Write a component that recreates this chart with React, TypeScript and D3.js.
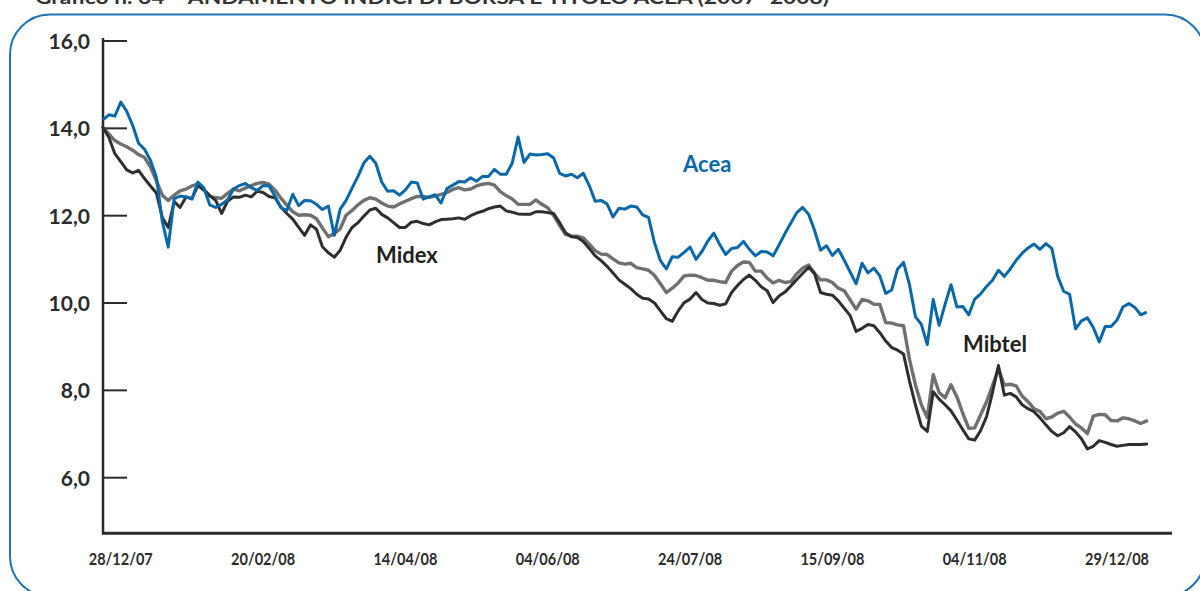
import React from "react";
import * as d3 from "d3";

const title = "Grafico n. 64 – ANDAMENTO INDICI DI BORSA E TITOLO ACEA (2007–2008)";

const tickLabels = ["28/12/07", "20/02/08", "14/04/08", "04/06/08", "24/07/08", "15/09/08", "04/11/08", "29/12/08"];
const tickIndex = [3, 27, 51, 75, 99, 123, 147, 171];
const yTicks = [6, 8, 10, 12, 14, 16];

const acea = [
  14.20, 14.31, 14.28, 14.60, 14.39, 14.07, 13.66, 13.52, 13.27, 12.88,
  11.87, 11.28, 12.39, 12.45, 12.43, 12.38, 12.77, 12.64, 12.25, 12.19,
  12.26, 12.36, 12.61, 12.69, 12.74, 12.64, 12.58, 12.69, 12.68, 12.45,
  12.18, 12.12, 12.49, 12.23, 12.35, 12.34, 12.26, 12.14, 12.22, 11.55,
  12.15, 12.35, 12.63, 12.90, 13.21, 13.36, 13.20, 12.77, 12.56, 12.57,
  12.47, 12.59, 12.77, 12.75, 12.38, 12.43, 12.48, 12.29, 12.62, 12.70,
  12.78, 12.77, 12.87, 12.79, 12.90, 12.90, 13.06, 12.95, 12.95, 13.20,
  13.80, 13.22, 13.41, 13.39, 13.40, 13.42, 13.32, 12.97, 12.91, 12.95,
  12.87, 12.97, 12.69, 12.33, 12.35, 12.27, 11.97, 12.17, 12.15, 12.22,
  12.20, 12.02, 11.96, 11.38, 10.97, 10.78, 11.06, 11.05, 11.16, 11.28,
  11.00, 11.18, 11.42, 11.60, 11.34, 11.11, 11.25, 11.27, 11.41, 11.23,
  11.08, 11.18, 11.17, 11.08, 11.33, 11.59, 11.83, 12.07, 12.19, 12.03,
  11.66, 11.21, 11.31, 11.09, 11.23, 10.98, 10.71, 10.44, 10.91, 10.69,
  10.80, 10.62, 10.22, 10.30, 10.78, 10.93, 10.42, 9.69, 9.51, 9.05,
  10.08, 9.49, 9.97, 10.42, 9.91, 9.92, 9.73, 10.09, 10.21, 10.38,
  10.52, 10.75, 10.61, 10.78, 10.98, 11.14, 11.26, 11.35, 11.23, 11.36,
  11.25, 10.61, 10.27, 10.20, 9.41, 9.59, 9.66, 9.44, 9.11, 9.46,
  9.46, 9.61, 9.91, 9.99, 9.90, 9.73, 9.79,
];

const mibtel = [
  14.02, 13.87, 13.72, 13.64, 13.58, 13.50, 13.40, 13.33, 13.12, 12.80,
  12.47, 12.35, 12.47, 12.57, 12.61, 12.68, 12.72, 12.59, 12.45, 12.41,
  12.40, 12.51, 12.61, 12.57, 12.63, 12.69, 12.74, 12.76, 12.72, 12.59,
  12.40, 12.24, 12.09, 12.01, 12.02, 12.01, 11.93, 11.72, 11.52, 11.59,
  11.70, 12.01, 12.12, 12.25, 12.35, 12.41, 12.38, 12.29, 12.22, 12.20,
  12.27, 12.33, 12.39, 12.44, 12.44, 12.42, 12.45, 12.49, 12.53, 12.60,
  12.64, 12.59, 12.61, 12.68, 12.72, 12.74, 12.70, 12.55, 12.46, 12.38,
  12.26, 12.26, 12.26, 12.36, 12.26, 12.18, 12.00, 11.78, 11.57, 11.53,
  11.53, 11.49, 11.35, 11.20, 11.12, 11.11, 11.01, 10.92, 10.89, 10.91,
  10.81, 10.78, 10.75, 10.63, 10.44, 10.24, 10.34, 10.46, 10.62, 10.64,
  10.63, 10.58, 10.52, 10.52, 10.49, 10.47, 10.73, 10.86, 10.94, 10.93,
  10.73, 10.73, 10.57, 10.46, 10.52, 10.47, 10.49, 10.67, 10.80, 10.87,
  10.68, 10.53, 10.53, 10.47, 10.34, 10.28, 10.07, 9.86, 10.08, 10.05,
  9.97, 9.97, 9.55, 9.54, 9.50, 9.48, 8.71, 8.13, 7.67, 7.38,
  8.36, 7.95, 7.83, 8.13, 7.85, 7.47, 7.13, 7.14, 7.44, 7.74,
  8.11, 8.49, 8.12, 8.14, 8.10, 7.87, 7.74, 7.58, 7.52, 7.35,
  7.39, 7.48, 7.52, 7.39, 7.23, 7.14, 7.01, 7.41, 7.45, 7.44,
  7.31, 7.30, 7.37, 7.35, 7.30, 7.24, 7.30,
];

const midex = [
  14.02, 13.79, 13.42, 13.24, 13.05, 12.98, 13.04, 12.85, 12.68, 12.52,
  11.96, 11.73, 12.32, 12.19, 12.43, 12.39, 12.69, 12.59, 12.46, 12.35,
  12.05, 12.33, 12.43, 12.42, 12.47, 12.43, 12.56, 12.53, 12.44, 12.41,
  12.20, 12.05, 11.92, 11.73, 11.55, 11.79, 11.69, 11.29, 11.15, 11.05,
  11.21, 11.51, 11.73, 11.84, 11.99, 12.13, 12.17, 12.03, 11.95, 11.84,
  11.73, 11.73, 11.85, 11.87, 11.82, 11.79, 11.86, 11.91, 11.92, 11.93,
  11.95, 11.92, 12.00, 12.06, 12.10, 12.16, 12.20, 12.22, 12.11, 12.08,
  12.04, 12.03, 12.03, 12.09, 12.09, 12.07, 12.05, 11.84, 11.61, 11.52,
  11.50, 11.41, 11.25, 11.08, 10.97, 10.84, 10.69, 10.53, 10.43, 10.33,
  10.20, 10.11, 10.09, 10.00, 9.82, 9.64, 9.58, 9.82, 10.01, 10.09,
  10.24, 10.08, 10.00, 9.99, 9.95, 9.98, 10.24, 10.40, 10.54, 10.64,
  10.52, 10.37, 10.28, 10.01, 10.16, 10.25, 10.39, 10.54, 10.68, 10.82,
  10.67, 10.24, 10.20, 10.18, 10.05, 9.88, 9.71, 9.35, 9.42, 9.51,
  9.48, 9.32, 9.13, 8.98, 8.92, 8.83, 8.21, 7.67, 7.18, 7.06,
  7.97, 7.80, 7.67, 7.53, 7.32, 7.10, 6.89, 6.86, 7.08, 7.40,
  7.95, 8.57, 7.89, 7.93, 7.85, 7.67, 7.58, 7.51, 7.37, 7.21,
  7.06, 6.96, 7.03, 7.17, 7.05, 6.89, 6.66, 6.72, 6.85, 6.81,
  6.76, 6.72, 6.74, 6.76, 6.76, 6.76, 6.77,
];

const W = 1200;
const H = 591;
const X0 = 103;
const STEP = 5.93;
const AXIS_Y = 533.3;
const X_END = 1172;

export default function App() {
  const n = acea.length;
  const x = d3.scaleLinear().domain([0, n - 1]).range([X0, X0 + (n - 1) * STEP]);
  const y = d3.scaleLinear().domain([6, 16]).range([477.7, 41]);
  const line = d3
    .line<number>()
    .x((_, i) => x(i))
    .y((d) => y(d))
    .curve(d3.curveLinear);

  const blue = "#0a68a9";
  const font = "Lato, 'Liberation Sans', sans-serif";

  return (
    <svg
      width={W}
      height={H}
      viewBox={`0 0 ${W} ${H}`}
      style={{ position: "absolute", left: 0, top: 0, background: "#fff" }}
    >
      <defs>
        <filter id="soft" x="-5%" y="-5%" width="110%" height="110%">
          <feGaussianBlur stdDeviation="0.7" />
        </filter>
      </defs>
      <rect x={0} y={0} width={W} height={H} fill="#fff" />
      <text
        x={35}
        y={4}
        fontFamily={font}
        fontWeight={700}
        fontSize={18}
        fill="#333"
        textLength={794}
        lengthAdjust="spacingAndGlyphs"
      >
        {title}
      </text>
      <rect x={10} y={14.5} width={1195} height={582} rx={40} ry={40} fill="none" stroke="#1f74b8" strokeWidth={2} />

      {/* axes */}
      <line x1={X0} x2={X0} y1={38} y2={AXIS_Y + 1} stroke="#2b2b2b" strokeWidth={2.5} />
      <line x1={X0 - 1} x2={X_END} y1={AXIS_Y} y2={AXIS_Y} stroke="#2b2b2b" strokeWidth={3} />
      {yTicks.map((t) => (
        <g key={t}>
          <line x1={X0} x2={127} y1={y(t)} y2={y(t)} stroke="#2b2b2b" strokeWidth={2} />
          <text
            x={90}
            y={y(t) + 8}
            textAnchor="end"
            fontFamily={font}
            fontWeight={700}
            fontSize={21}
            fill="#2b2b2b"
          >
            {t.toFixed(1).replace(".", ",")}
          </text>
        </g>
      ))}
      {tickIndex.map((ti, k) => (
        <text
          key={ti}
          x={x(ti)}
          y={565}
          textAnchor="middle"
          fontFamily={font}
          fontWeight={700}
          fontSize={17.5}
          fill="#2b2b2b"
          textLength={64}
          lengthAdjust="spacingAndGlyphs"
        >
          {tickLabels[k]}
        </text>
      ))}

      {/* series */}
      <g filter="url(#soft)" fill="none" strokeLinejoin="round" strokeLinecap="round">
        <path d={line(mibtel) || ""} stroke="#707070" strokeWidth={3.4} />
        <path d={line(midex) || ""} stroke="#2f2f2f" strokeWidth={3} />
      </g>
      <path d={line(acea) || ""} fill="none" stroke={blue} strokeWidth={3} strokeLinejoin="round" />

      {/* labels */}
      <text x={683} y={172} fontFamily={font} fontWeight={700} fontSize={22} fill={blue}>
        Acea
      </text>
      <text x={376} y={263} fontFamily={font} fontWeight={700} fontSize={22} fill="#231f20">
        Midex
      </text>
      <text x={963} y={352} fontFamily={font} fontWeight={700} fontSize={22} fill="#231f20">
        Mibtel
      </text>
    </svg>
  );
}
